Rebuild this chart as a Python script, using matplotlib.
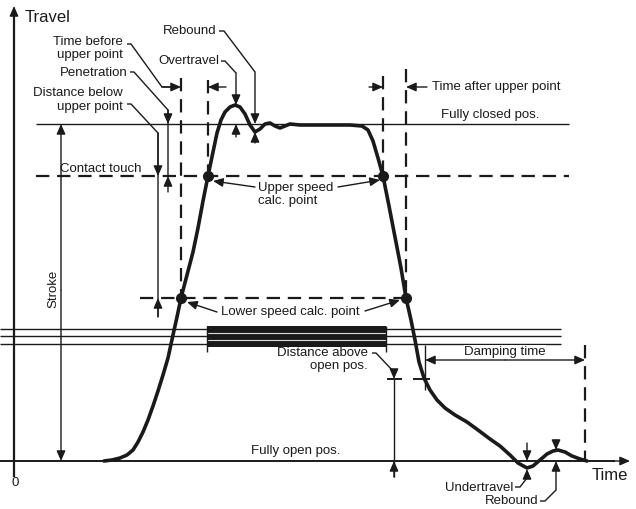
import matplotlib.pyplot as plt

plt.rcParams['font.family'] = ['Liberation Sans', 'DejaVu Sans']

# travel curve (x = time, y = travel, picture units, y downwards)
curve_t = [104, 112, 120, 127, 133, 138, 143, 148, 153, 158, 163, 168, 173, 177, 181,
           187, 193, 198, 203, 208, 213, 217, 221, 225, 230, 235, 240, 245, 250, 255,
           260, 265, 270, 275, 280, 285, 290, 300, 330, 350, 362, 368, 373, 378, 383,
           389, 395, 401, 406, 411, 415, 419, 424, 430, 437, 445, 455, 467, 478, 490,
           500, 510, 518, 527, 533, 540, 547, 553, 558, 565, 572, 580, 587]
curve_y = [461, 460, 458, 455, 450, 442, 432, 420, 406, 391, 375, 358, 335, 317, 298,
           275, 252, 228, 201, 176, 152, 133, 120, 112, 107, 105, 107, 114, 125, 132,
           129, 124, 123, 126, 128, 126, 124, 125, 125, 125, 126, 130, 141, 158, 176,
           206, 237, 268, 298, 320, 340, 362, 378, 390, 400, 408, 415, 422, 430, 439,
           446, 455, 463, 468, 466, 460, 454, 451, 450, 452, 456, 459, 461]

# speed calculation points
upper_pts_t = [208, 383]
lower_pts_t = [181, 406]

# levels
y_open = 461
y_closed = 124
y_contact = 176
y_lower = 298
y_above_open = 379
band_y = [329, 336, 344]

K = '#1a1a1a'
FS = 9.5
LS = 1.2
ARROW = dict(arrowstyle='-|>,head_length=0.5,head_width=0.22', lw=1, color=K,
             shrinkA=0, shrinkB=0, mutation_scale=12)

fig = plt.figure(figsize=(6.36, 5.09), dpi=100)
ax = fig.add_axes([0, 0, 1, 1])
ax.set_xlim(0, 636)
ax.set_ylim(509, 0)
ax.axis('off')


def arrow(x0, y0, x1, y1):
    ax.annotate('', xy=(x1, y1), xytext=(x0, y0), arrowprops=ARROW)


def line(xs, ys, lw=1.0, color=K):
    ax.plot(xs, ys, color=color, lw=lw, solid_capstyle='butt')


def dashed(xs, ys):
    ax.plot(xs, ys, color=K, lw=1.6, linestyle=(0, (6, 3.5)), dash_capstyle='butt')


# axes
line([14, 14], [477, 14], lw=1.6)
arrow(14, 20, 14, 6)
line([0, 615], [y_open, y_open], lw=1.4)
arrow(612, y_open, 630, y_open)
ax.text(25, 17, 'Travel', fontsize=12, va='center', ha='left', color=K)
ax.text(592, 475, 'Time', fontsize=12, va='center', ha='left', color=K)
ax.text(15, 483, '0', fontsize=FS, va='center', ha='center', color=K)

# reference levels
line([36, 569], [y_closed, y_closed])
dashed([36, 569], [y_contact, y_contact])
dashed([140, 406], [y_lower, y_lower])
for by in band_y:
    line([0, 561], [by, by])
ax.fill_between([207, 386], 326, 347, color=K, lw=0)
line([207, 386], [332.5, 332.5], lw=0.8, color='#dddddd')
line([207, 386], [340, 340], lw=0.8, color='#dddddd')
line([207, 207], [326, 352])
line([386, 386], [326, 352])

ax.text(490, 115, 'Fully closed pos.', fontsize=FS, ha='center', va='center', color=K)
ax.text(60, 169, 'Contact touch', fontsize=FS, ha='left', va='center', color=K)
ax.text(251, 451, 'Fully open pos.', fontsize=FS, ha='left', va='center', color=K)

# vertical dashed time markers
dashed([181, 181], [78, 298])
dashed([208, 208], [80, 176])
dashed([383, 383], [76, 176])
dashed([406, 406], [69, 298])
dashed([585, 585], [345, 461])

# travel curve and calc points
ax.plot(curve_t, curve_y, color=K, lw=2.6, solid_joinstyle='round', solid_capstyle='round')
ax.plot(upper_pts_t, [y_contact] * 2, 'o', color=K, ms=7)
ax.plot(lower_pts_t, [y_lower] * 2, 'o', color=K, ms=7)

# stroke
arrow(61, 290, 61, y_closed)
arrow(61, 290, 61, y_open)
ax.text(53, 289, 'Stroke', fontsize=FS, rotation=90, ha='center', va='center', color=K)

# time before upper point
ax.text(123, 48.5, 'Time before\nupper point', fontsize=FS, ha='right', va='center',
        linespacing=LS, color=K)
line([127, 131, 162, 172], [44, 44, 87, 87])
arrow(162, 87, 181, 87)
arrow(226, 87, 208, 87)

# time after upper point
arrow(369, 87, 383, 87)
arrow(427, 87, 406, 87)
ax.text(432, 87, 'Time after upper point', fontsize=FS, ha='left', va='center', color=K)

# penetration
ax.text(128, 73, 'Penetration', fontsize=FS, ha='right', va='center', color=K)
line([130, 134, 168, 168], [72, 72, 110, 176])
arrow(168, 110, 168, y_closed)
arrow(168, 192, 168, y_contact)

# distance below upper point
ax.text(123, 100, 'Distance below\nupper point', fontsize=FS, ha='right', va='center',
        linespacing=LS, color=K)
line([127, 131, 158, 158], [104, 104, 133, 317])
arrow(158, 133, 158, y_contact)
arrow(158, 317, 158, y_lower)

# overtravel
ax.text(219, 61, 'Overtravel', fontsize=FS, ha='right', va='center', color=K)
line([221, 225, 236], [61, 61, 73])
arrow(236, 73, 236, 105)
arrow(236, 137, 236, y_closed)

# rebound (top)
ax.text(217, 31, 'Rebound', fontsize=FS, ha='right', va='center', color=K)
line([219, 224, 255], [31, 31, 72])
arrow(255, 72, 255, y_closed)
arrow(255, 143, 255, 132)

# speed calc point labels
ax.text(258, 194.5, 'Upper speed\ncalc. point', fontsize=FS, ha='left', va='center',
        linespacing=LS, color=K)
arrow(255, 187, 213, 181)
arrow(338, 187, 380, 180)
ax.text(290, 312, 'Lower speed calc. point', fontsize=FS, ha='center', va='center', color=K)
arrow(217, 312, 187, 302)
arrow(365, 311, 400, 300)

# distance above open pos.
ax.text(368, 359.5, 'Distance above\nopen pos.', fontsize=FS, ha='right', va='center',
        linespacing=LS, color=K)
line([372, 376, 394], [353, 353, 372])
arrow(394, 372, 394, y_above_open)
line([394, 394], [y_above_open, 477])
arrow(394, 477, 394, y_open)
line([387, 402], [y_above_open, y_above_open], lw=1.4)
line([413, 430], [y_above_open, y_above_open], lw=1.4)

# damping time
line([425, 425], [345, 390])
arrow(505, 360, 425, 360)
arrow(505, 360, 585, 360)
ax.text(505, 352, 'Damping time', fontsize=FS, ha='center', va='center', color=K,
        bbox=dict(facecolor='white', edgecolor='none', pad=0.5))

# undertravel / rebound (bottom)
ax.text(513, 488, 'Undertravel', fontsize=FS, ha='right', va='center', color=K)
line([515, 520, 527], [487, 487, 478])
arrow(527, 478, 527, 469)
arrow(527, 443, 527, y_open)
ax.text(538, 501, 'Rebound', fontsize=FS, ha='right', va='center', color=K)
line([540, 545, 556], [501, 501, 490])
arrow(556, 490, 556, y_open)
arrow(556, 440, 556, 450)

fig.savefig('out.png', dpi=100)
